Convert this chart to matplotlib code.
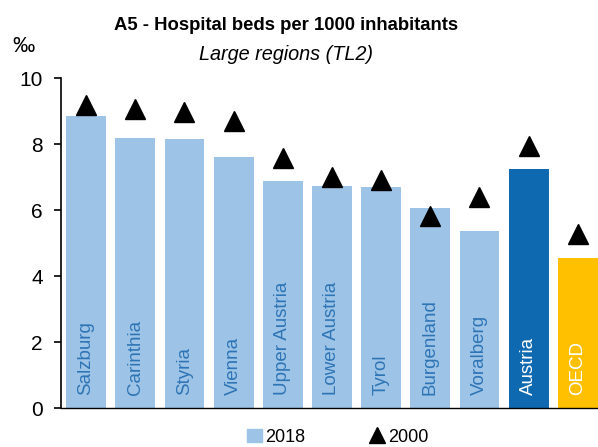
import matplotlib
matplotlib.use("Agg")
import matplotlib.pyplot as plt
from matplotlib.lines import Line2D
from matplotlib.patches import Patch

plt.rcParams["font.family"] = ["Liberation Sans Narrow", "Liberation Sans", "DejaVu Sans"]

regions = ["Salzburg", "Carinthia", "Styria", "Vienna", "Upper Austria", "Lower Austria",
           "Tyrol", "Burgenland", "Voralberg", "Austria", "OECD"]
beds_2018 = [8.85, 8.18, 8.15, 7.60, 6.88, 6.74, 6.70, 6.06, 5.36, 7.26, 4.55]
beds_2000 = [9.20, 9.07, 8.98, 8.70, 7.58, 7.01, 6.92, 5.82, 6.41, 7.94, 5.29]

LIGHT = "#9DC3E6"
DARK = "#0F69B0"
GOLD = "#FFC000"
colors = [LIGHT] * 9 + [DARK, GOLD]
text_colors = ["#2E75B6"] * 9 + ["white", "white"]

fig = plt.figure(figsize=(5.98, 4.47), dpi=100)
ax = fig.add_axes([0.102, 0.087, 0.898, 0.738])

x = list(range(len(regions)))
ax.bar(x, beds_2018, width=0.81, color=colors, zorder=2)
ax.plot(x, beds_2000, linestyle="none", marker="^", color="black", markersize=15, zorder=3)

# region names written inside the bars
for i, name in enumerate(regions):
    ax.text(i, 0.4, name, rotation=90, ha="center", va="bottom",
            color=text_colors[i], fontsize=13.5)

ax.set_xlim(-0.51, 10.41)
ax.set_ylim(0, 10)
ax.set_yticks([0, 2, 4, 6, 8, 10])
ax.set_xticks([])
ax.tick_params(axis="y", labelsize=15, direction="out", length=5, width=1.2, pad=8)
for side in ["top", "right"]:
    ax.spines[side].set_visible(False)
ax.spines["left"].set_linewidth(1.2)
ax.spines["bottom"].set_linewidth(1.0)

fig.text(0.02, 0.872, "‰", fontsize=16, ha="left", va="bottom")
fig.text(0.478, 0.943, "A5 - Hospital beds per 1000 inhabitants", fontsize=13.3,
         fontweight="bold", ha="center", va="center")
fig.text(0.478, 0.879, "Large regions (TL2)", fontsize=14.3, style="italic",
         ha="center", va="center")

handles = [Patch(color=LIGHT),
           Line2D([], [], linestyle="none", marker="^", color="black", markersize=11)]
fig.legend(handles, ["2018", "2000"], loc="center", bbox_to_anchor=(0.565, 0.022),
           ncol=2, frameon=False, fontsize=13, handlelength=0.8, handletextpad=0.2,
           columnspacing=3.6)

fig.savefig("out.png", dpi=100)
